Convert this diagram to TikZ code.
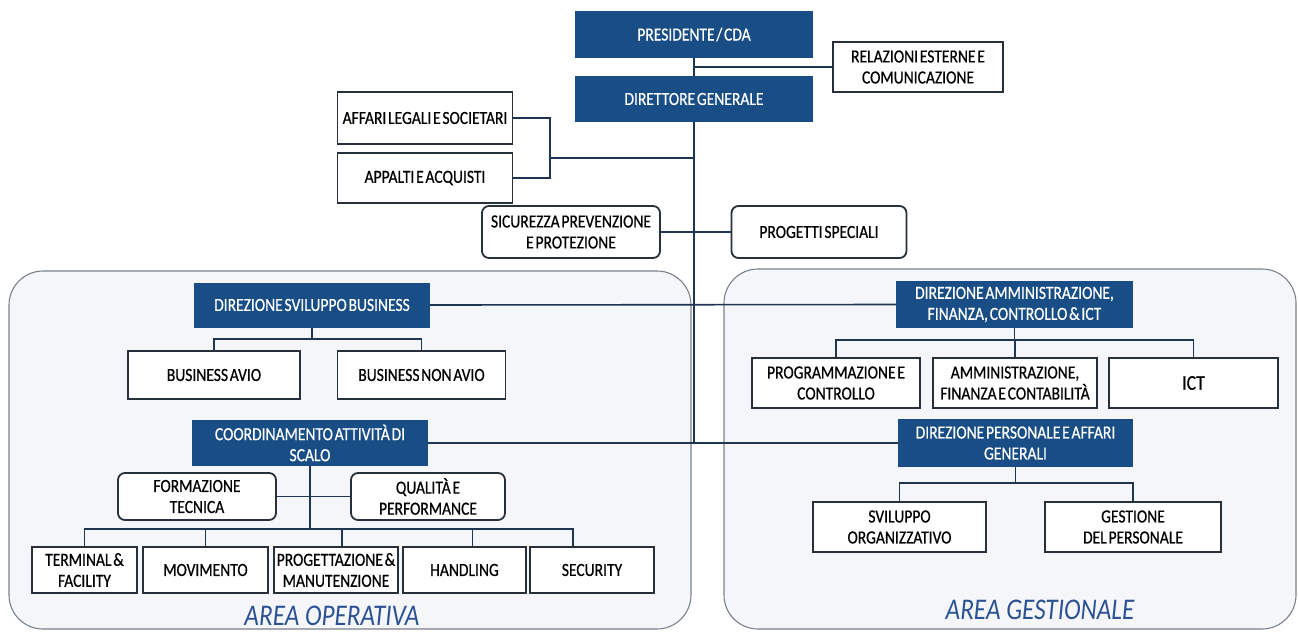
\documentclass[tikz,border=0pt]{standalone}
\usepackage{fontspec}
\setmainfont{Carlito}[FakeStretch=0.84, WordSpace=0.5, FakeBold=0.6]
\newfontfamily\areafont{Carlito}[FakeStretch=0.84]
\definecolor{cdablue}{RGB}{24,78,133}
\definecolor{linea}{RGB}{30,54,82}
\definecolor{bordo}{RGB}{40,48,60}
\definecolor{area}{RGB}{244,246,250}
\definecolor{areabordo}{RGB}{122,130,140}
\definecolor{areatesto}{RGB}{44,82,148}

\begin{document}
\begin{tikzpicture}[x=1pt,y=-1pt,
    every node/.style={font=\fontsize{18.5}{21}\selectfont, inner sep=0pt, align=center},
    dirbox/.style={fill=cdablue, text=white},
    ufficio/.style={draw=bordo, line width=1.8pt, fill=white},
    staff/.style={ufficio, rounded corners=7pt},
    sz/.style 2 args={minimum width=#1, minimum height=#2},
    conn/.style={draw=linea, line width=1.6pt},
    areabox/.style={draw=areabordo, fill=area, line width=1.1pt, rounded corners=34pt},
    arealbl/.style={font=\areafont\fontsize{30}{32}\selectfont\itshape, text=areatesto, anchor=base}]
    \useasboundingbox (0,0) rectangle (1298,632);
    \fill[white] (0,0) rectangle (1298,632);
    \draw[areabox] (9,271) rectangle (691,629);
    \draw[areabox] (724,269) rectangle (1296,629);%
    \node[dirbox, sz={238}{47}] (pres) at (694,34.5) {PRESIDENTE / CDA};
    \node[ufficio, sz={170}{50}] (relaz) at (918,67) {RELAZIONI ESTERNE E\\COMUNICAZIONE};
    \node[dirbox, sz={238}{46}] (dg) at (694,99) {DIRETTORE GENERALE};
    \node[ufficio, sz={175}{52}] (legali) at (425,118) {AFFARI LEGALI E SOCIETARI};
    \node[ufficio, sz={175}{50}] (appalti) at (425,178) {APPALTI E ACQUISTI};
    \node[staff, sz={178}{52}] (sicur) at (571,232) {SICUREZZA PREVENZIONE\\E PROTEZIONE};
    \node[staff, sz={175}{52}] (progetti) at (819,232) {PROGETTI SPECIALI};%
    \node[dirbox, sz={236}{45}] (dsb) at (312,305) {DIREZIONE SVILUPPO BUSINESS};
    \node[ufficio, sz={172}{48}] (avio) at (214,375) {BUSINESS AVIO};
    \node[ufficio, sz={168}{48}] (nonavio) at (421.5,375) {BUSINESS NON AVIO};
    \node[dirbox, sz={236}{46}] (scalo) at (310,443) {COORDINAMENTO ATTIVITÀ DI\\SCALO};
    \node[staff, sz={158}{47}] (formaz) at (197,496.5) {FORMAZIONE\\TECNICA};
    \node[staff, sz={154}{47}] (qualita) at (428,496.5) {QUALITÀ E\\PERFORMANCE};
    \node[ufficio, sz={105}{46}] (terminal) at (84.5,570) {TERMINAL \&\\FACILITY};
    \node[ufficio, sz={125}{46}] (movim) at (205.5,570) {MOVIMENTO};
    \node[ufficio, sz={124}{46}] (progman) at (336,570) {PROGETTAZIONE \&\\MANUTENZIONE};
    \node[ufficio, sz={123}{46}] (handling) at (464.5,570) {HANDLING};
    \node[ufficio, sz={124}{46}] (security) at (592,570) {SECURITY};
    \node[arealbl] (areaop) at (332,625) {AREA OPERATIVA};%
    \node[dirbox, sz={237}{47}] (amm) at (1014.5,304.5) {DIREZIONE AMMINISTRAZIONE,\\FINANZA, CONTROLLO \& ICT};
    \node[ufficio, sz={168}{50}] (programm) at (836,383) {PROGRAMMAZIONE E\\CONTROLLO};
    \node[ufficio, sz={164}{50}] (contab) at (1015,383) {AMMINISTRAZIONE,\\FINANZA E CONTABILITÀ};
    \node[ufficio, sz={169}{50}, font=\fontsize{21}{24}\selectfont] (ict) at (1193.5,383) {ICT};
    \node[dirbox, sz={235}{48}] (pers) at (1015.5,443) {DIREZIONE PERSONALE E AFFARI\\GENERALI};
    \node[ufficio, sz={173}{50}] (svilorg) at (899.5,527) {SVILUPPO\\ORGANIZZATIVO};
    \node[ufficio, sz={176}{50}] (gestpers) at (1133,527) {GESTIONE\\DEL PERSONALE};
    \node[arealbl] (areages) at (1040,619) {AREA GESTIONALE};%
    \coordinate (staffbus) at (550,158);
    \coordinate (dsbbus) at (312,339);
    \coordinate (scalobus) at (310,529);
    \coordinate (ammbus) at (1014.5,340);
    \coordinate (persbus) at (1015.5,483);%
    \draw[conn] (pres.south) -- (dg.north);
    \draw[conn] (relaz.west) -- (relaz.west -| pres.south);
    \draw[conn] (dg.south) -- (dg.south |- pers.west);
    \draw[conn] (legali.east) -| (staffbus) |- (appalti.east);
    \draw[conn] (staffbus) -- (staffbus -| dg.south);
    \draw[conn] (sicur.east) -- (progetti.west);
    \draw[conn] (dsb.east) -- (amm.west);
    \draw[conn] (scalo.east) -- (pers.west);%
    \draw[conn] (dsb.south) -- (dsbbus);
    \draw[conn] (avio.north) |- (dsbbus) -| (nonavio.north);
    \draw[conn] (scalo.south) -- (scalobus);
    \draw[conn] (formaz.east) -- (qualita.west);
    \foreach \n/\dx in {terminal/0,movim/0,progman/6,handling/8,security/-19}
        \draw[conn] (scalobus) -| ([xshift=\dx]\n.north);%
    \draw[conn] (amm.south) -- (ammbus);
    \foreach \n in {programm,contab,ict}
        \draw[conn] (ammbus) -| (\n.north);
    \draw[conn] (pers.south) -- (persbus);
    \draw[conn] (svilorg.north) |- (persbus) -| (gestpers.north);
\end{tikzpicture}
\end{document}
